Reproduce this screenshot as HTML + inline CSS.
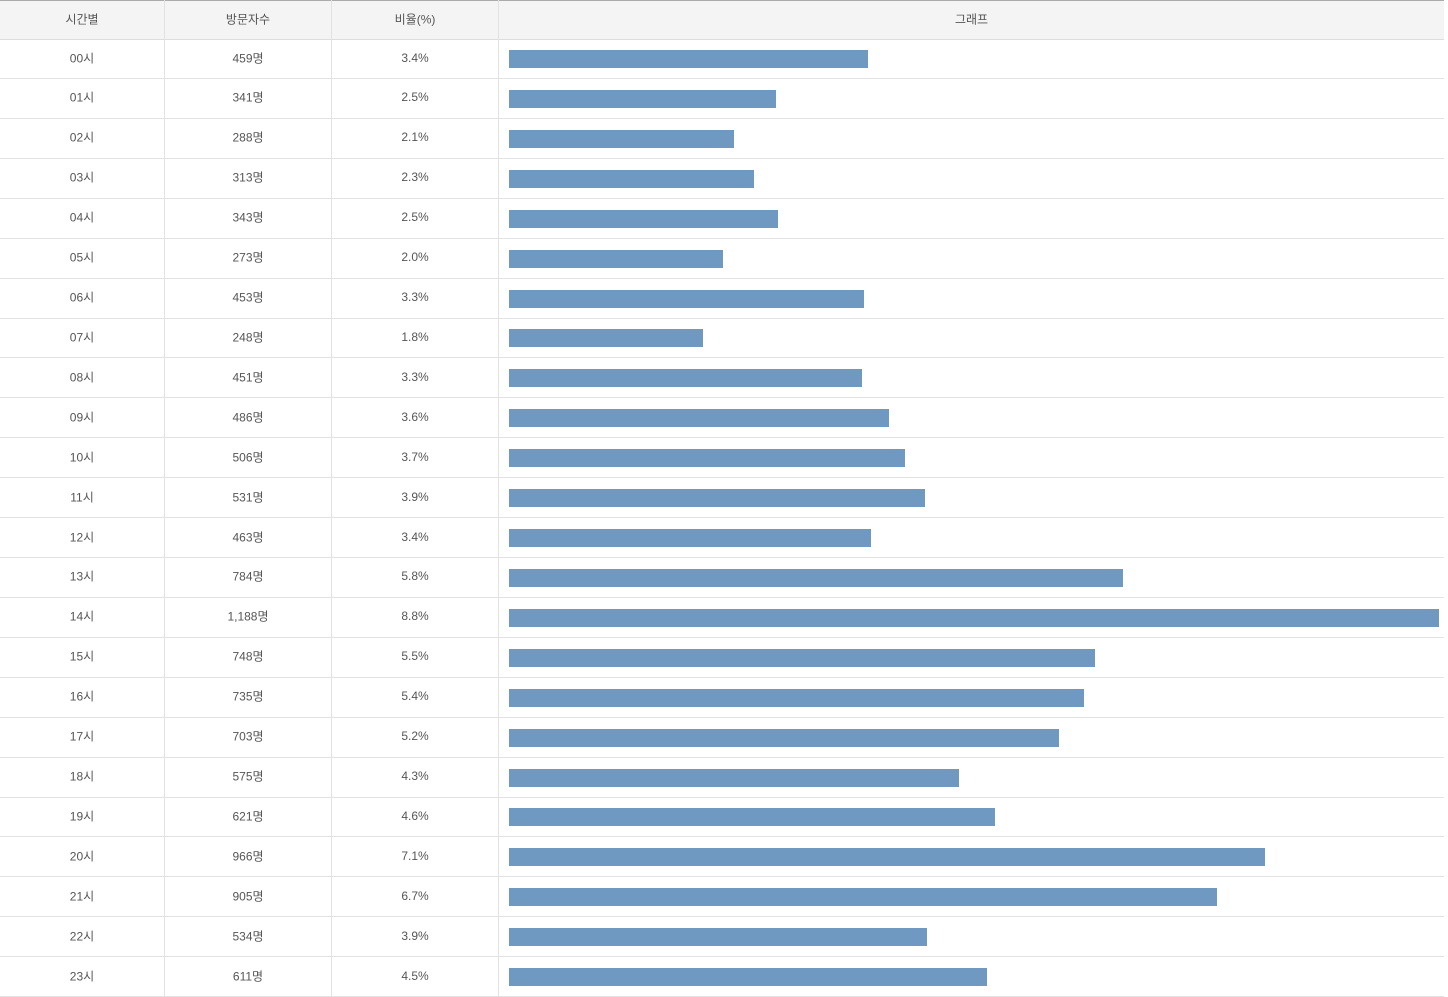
<!DOCTYPE html><html><head><meta charset="utf-8"><style>
body{margin:0;width:1448px;height:996px;background:#fff;position:relative;overflow:hidden;font-family:"Liberation Sans","Noto Sans CJK KR",sans-serif;font-size:12px;color:#555}
.h{position:absolute;left:0;top:0;width:1444px;height:38px;background:#f4f4f4;border-top:1px solid #aaa;border-bottom:1px solid #ddd}
.r{position:absolute;left:0;width:1444px;border-bottom:1px solid #e2e2e2}
.c{position:absolute;text-align:center;top:50%;transform:translateY(calc(-50% - 1px))}
.v{position:absolute;top:0;width:1px;height:996px;background:#e2e2e2}
.b{position:absolute;left:509px;height:18px;background:#7099c2}
</style></head><body>
<div class="h"><div class="c" style="left:0;width:164px">시간별</div><div class="c" style="left:165px;width:166px">방문자수</div><div class="c" style="left:332px;width:166px">비율(%)</div><div class="c" style="left:499px;width:945px">그래프</div></div>
<div class="v" style="left:164px"></div><div class="v" style="left:331px"></div><div class="v" style="left:498px"></div>
<div id="t"></div>
<script>
var d=[[459,"3.4"],[341,"2.5"],[288,"2.1"],[313,"2.3"],[343,"2.5"],[273,"2.0"],[453,"3.3"],[248,"1.8"],[451,"3.3"],[486,"3.6"],[506,"3.7"],[531,"3.9"],[463,"3.4"],[784,"5.8"],[1188,"8.8"],[748,"5.5"],[735,"5.4"],[703,"5.2"],[575,"4.3"],[621,"4.6"],[966,"7.1"],[905,"6.7"],[534,"3.9"],[611,"4.5"]];
var h="";
d.forEach(function(x,i){var top=39+i*39.92;var hh=(i<10?"0":"")+i;var n=x[0]>=1000?"1,"+String(x[0]).slice(1):x[0];
h+='<div class="r" style="top:'+top+'px;height:39px"><div class="c" style="left:0;width:164px">'+hh+'시</div><div class="c" style="left:165px;width:166px">'+n+'명</div><div class="c" style="left:332px;width:166px">'+x[1]+'%</div></div>';
h+='<div class="b" style="top:'+(top+11)+'px;width:'+Math.round(x[0]*930/1188)+'px"></div>';});
document.getElementById("t").innerHTML=h;
</script></body></html>
